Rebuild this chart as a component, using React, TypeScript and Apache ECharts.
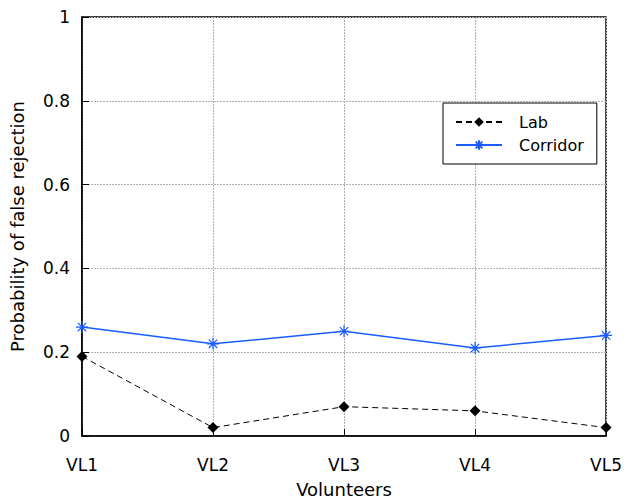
import React, { useEffect, useRef } from "react";
import * as echarts from "echarts";

const categories = ["VL1", "VL2", "VL3", "VL4", "VL5"];
const labValues = [0.19, 0.02, 0.07, 0.06, 0.02];
const corridorValues = [0.26, 0.22, 0.25, 0.21, 0.24];
const yTicks = { min: 0, max: 1, interval: 0.2 };

const asterisk = "path://M5 0 L5 10 M0 5 L10 5 M1.5 1.5 L8.5 8.5 M1.5 8.5 L8.5 1.5";

export default function App() {
  const ref = useRef<HTMLDivElement>(null);
  useEffect(() => {
    if (!ref.current) return;
    const chart = echarts.init(ref.current, null, { renderer: "svg" });
    const font = "DejaVu Sans";
    chart.setOption({
      animation: false,
      backgroundColor: "#ffffff",
      textStyle: { fontFamily: font },
      grid: { left: 80, right: 13, top: 17, bottom: 68, show: true, borderColor: "#000", borderWidth: 1.5 },
      legend: {
        left: 443,
        top: 103,
        orient: "vertical",
        backgroundColor: "#fff",
        borderColor: "#000",
        borderWidth: 1,
        padding: [11, 13, 11, 12],
        itemGap: 7,
        itemWidth: 46,
        itemHeight: 12,
        textStyle: { fontFamily: font, fontSize: 16, color: "#000", padding: [0, 0, 0, 12] },
        data: ["Lab", "Corridor"],
      },
      xAxis: {
        type: "category",
        data: categories,
        boundaryGap: false,
        name: "Volunteers",
        nameLocation: "middle",
        nameGap: 44,
        nameTextStyle: { fontFamily: font, fontSize: 18, color: "#000" },
        axisLine: { lineStyle: { color: "#000", width: 1.5 } },
        axisTick: { inside: true, length: 7, lineStyle: { color: "#000" } },
        axisLabel: { fontFamily: font, fontSize: 17, color: "#000", margin: 20 },
        splitLine: { show: true, lineStyle: { color: "#b0b0b0", type: [2, 1], width: 1 } },
      },
      yAxis: {
        type: "value",
        min: yTicks.min,
        max: yTicks.max,
        interval: yTicks.interval,
        name: "Probability of false rejection",
        nameLocation: "middle",
        nameGap: 56,
        nameTextStyle: { fontFamily: font, fontSize: 18, color: "#000" },
        axisLine: { show: true, lineStyle: { color: "#000", width: 1.5 } },
        axisTick: { show: true, inside: true, length: 7, lineStyle: { color: "#000" } },
        axisLabel: {
          fontFamily: font,
          fontSize: 17,
          color: "#000",
          margin: 12,
          formatter: (v: number) => String(Math.round(v * 10) / 10),
        },
        splitLine: { show: true, lineStyle: { color: "#b0b0b0", type: [2, 1], width: 1 } },
      },
      series: [
        {
          name: "Lab",
          type: "line",
          data: labValues,
          symbol: "diamond",
          symbolSize: 11,
          clip: false,
          itemStyle: { color: "#000" },
          lineStyle: { color: "#000", width: 1, type: [6, 4] },
        },
        {
          name: "Corridor",
          type: "line",
          data: corridorValues,
          symbol: asterisk,
          symbolSize: 12,
          clip: false,
          itemStyle: { color: "#1a5cff", borderColor: "#1a5cff", borderWidth: 1.2 },
          lineStyle: { color: "#1a5cff", width: 1.5 },
        },
      ],
    });
    return () => chart.dispose();
  }, []);
  return <div ref={ref} style={{ position: "fixed", left: 0, top: 0, width: 625, height: 504 }} />;
}
